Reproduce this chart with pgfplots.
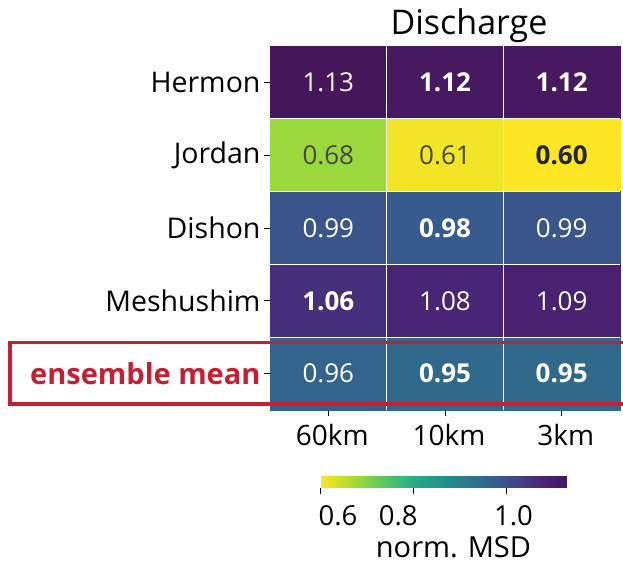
\documentclass[border=0pt]{standalone}
\usepackage{fontspec}
\setmainfont{Open Sans}
\usepackage{pgfplots}
\pgfplotsset{compat=1.18}
\usetikzlibrary{calc}
\definecolor{ered}{RGB}{200,30,50}
\definecolor{dgray}{RGB}{70,70,70}
\pgfplotsset{colormap={viridisr}{rgb255=(253,231,37) rgb255=(189,223,38) rgb255=(122,209,81) rgb255=(68,191,112) rgb255=(34,168,132) rgb255=(33,145,140) rgb255=(42,120,142) rgb255=(53,95,141) rgb255=(65,68,135) rgb255=(72,38,119) rgb255=(70,22,90)}}
\newcommand{\fl}{\fontsize{28.5}{33}\selectfont}
\newcommand{\fc}{\fontsize{26}{31}\selectfont}
\newcommand{\fx}{\fontsize{28}{33}\selectfont}
\begin{document}
\begin{tikzpicture}[x=1pt,y=1pt]
\useasboundingbox (0,0) rectangle (623,566);
\begin{axis}[
  at={(270pt,156pt)}, anchor=south west,
  scale only axis, width=350pt, height=364pt,
  xmin=-0.5, xmax=2.5, ymin=-0.5, ymax=4.5, y dir=reverse,
  xtick={0,1,2}, xticklabels={60km,10km,3km},
  ytick={0,1,2,3,4},
  yticklabels={Hermon,Jordan,Dishon,Meshushim,{\textcolor{ered}{\fontsize{29}{34}\selectfont\bfseries ensemble mean}}},
  tick align=outside, tick pos=left, major tick length=6pt,
  axis line style={draw=none},
  tick style={black, line width=0.8pt},
  yticklabel style={font=\fl},
  xticklabel style={font=\fx, yshift=-5pt, xshift=4pt},
  colormap name=viridisr, point meta min=0.6, point meta max=1.13,
  colorbar horizontal,
  colorbar style={
    at={($(parent axis.south west)+(50pt,-58pt)$)}, anchor=north west,
    scale only axis, width=247pt, height=11pt,
    xtick={0.6,0.8,1.0},
    xticklabels={\hspace*{36pt}0.6, 0.8\hspace*{30pt}, \hspace*{14pt}1.0},
    xticklabel style={font=\fontsize{27.5}{32}\selectfont, yshift=-8pt},
    xlabel={norm. MSD}, xlabel style={font=\fontsize{29}{34}\selectfont, yshift=-4pt, xshift=10pt},
    axis line style={draw=none},
    tick align=outside, xtick pos=left, major tick length=6pt,
    tick style={black, line width=0.8pt},
  },
  clip=false,
]
\addplot[matrix plot*, mesh/cols=3, point meta=explicit] coordinates {
(0,0) [1.13] (1,0) [1.12] (2,0) [1.12]
(0,1) [0.68] (1,1) [0.61] (2,1) [0.60]
(0,2) [0.99] (1,2) [0.98] (2,2) [0.99]
(0,3) [1.06] (1,3) [1.08] (2,3) [1.09]
(0,4) [0.96] (1,4) [0.95] (2,4) [0.95]
};
\draw[white, line width=1pt] (axis cs:0.5,-0.5) -- (axis cs:0.5,4.5);
\draw[white, line width=1pt] (axis cs:1.5,-0.5) -- (axis cs:1.5,4.5);
\draw[white, line width=1pt] (axis cs:-0.5,0.5) -- (axis cs:2.5,0.5);
\draw[white, line width=1pt] (axis cs:-0.5,1.5) -- (axis cs:2.5,1.5);
\draw[white, line width=1pt] (axis cs:-0.5,2.5) -- (axis cs:2.5,2.5);
\draw[white, line width=1pt] (axis cs:-0.5,3.5) -- (axis cs:2.5,3.5);
\addplot[only marks, mark=none, point meta=explicit symbolic, nodes near coords, nodes near coords align=center,
  nodes near coords style={white, font=\fc, anchor=center}] coordinates {
(0,0) [1.13] (1,0) [\textbf{1.12}] (2,0) [\textbf{1.12}]
(0,2) [0.99] (1,2) [\textbf{0.98}] (2,2) [0.99]
(0,3) [\textbf{1.06}] (1,3) [1.08] (2,3) [1.09]
(0,4) [0.96] (1,4) [\textbf{0.95}] (2,4) [\textbf{0.95}]
};
\addplot[only marks, mark=none, point meta=explicit symbolic, nodes near coords, nodes near coords align=center,
  nodes near coords style={dgray, font=\fc, anchor=center}] coordinates {
(0,1) [0.68] (1,1) [0.61] (2,1) [\textcolor{black!85}{\textbf{0.60}}]
};
\end{axis}
\node[font=\fontsize{34}{40}\selectfont, anchor=base] at (469,531) {Discharge};
\draw[ered, line width=3.5pt] (10,162) rectangle (640,223.5);
\end{tikzpicture}
\end{document}
